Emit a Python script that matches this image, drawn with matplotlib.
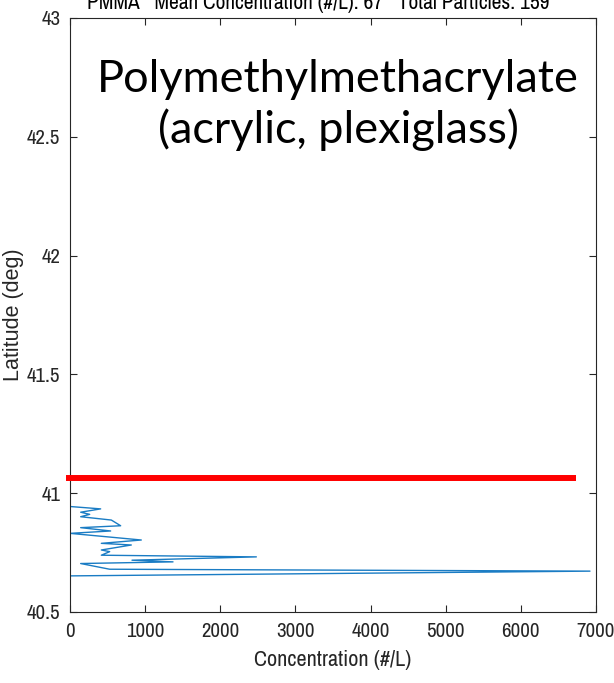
import matplotlib
matplotlib.use("Agg")
import matplotlib.pyplot as plt
from matplotlib import font_manager as fm

names = sorted({f.name for f in fm.fontManager.ttflist})
narrow = 'Liberation Sans'
for n in names:
    if 'Narrow' in n or 'Condensed' in n:
        narrow = n
        break

# Data
conc = [0, 0, 408, 142, 262, 142, 550, 674, 142, 541, 0, 949, 417, 816, 417, 528,
        417, 2480, 825, 1371, 142, 528, 6920, 0, 0]
lat = [43.0, 40.944, 40.934, 40.920, 40.911, 40.901, 40.887, 40.863, 40.855, 40.841,
       40.831, 40.803, 40.789, 40.782, 40.761, 40.754, 40.739, 40.732, 40.718, 40.711,
       40.704, 40.680, 40.672, 40.652, 40.5]

red_x = [-50, 6730]
red_lat = [41.063, 41.063]

xticks = [0, 1000, 2000, 3000, 4000, 5000, 6000, 7000]
yticks = [40.5, 41, 41.5, 42, 42.5, 43]
ytick_labels = ['40.5', '41', '41.5', '42', '42.5', '43']

title = 'PMMA   Mean Concentration (#/L): 67   Total Particles: 159'
annotation = 'Polymethylmethacrylate\n(acrylic, plexiglass)'

fig = plt.figure(figsize=(6.14, 6.83), dpi=100)
ax = fig.add_axes([70/614, 1-612/683, (596-70)/614, (612-18)/683])

ax.plot(conc, lat, color='#1a7cc4', lw=1.0, clip_on=True)
ax.plot(red_x, red_lat, color='#ff0000', lw=4.3, solid_capstyle='butt', clip_on=False, zorder=5)

ax.set_xlim(0, 7000)
ax.set_ylim(40.5, 43)
ax.set_xticks(xticks)
ax.set_xticklabels([str(v) for v in xticks])
ax.set_yticks(yticks)
ax.set_yticklabels(ytick_labels)

axc = '#262626'
for s in ax.spines.values():
    s.set_color(axc)
    s.set_linewidth(0.8)
ax.tick_params(direction='in', length=5, width=0.8, colors=axc, top=True, right=True,
               labelsize=15, pad=7)
for lbl in ax.get_xticklabels() + ax.get_yticklabels():
    lbl.set_fontfamily(narrow)
    lbl.set_color(axc)

ax.set_xlabel('Concentration (#/L)', fontsize=16, family=narrow, color=axc, labelpad=7)
fig.text(14/614, 1-315/683, 'Latitude (deg)', rotation=90, ha='center', va='center',
         fontsize=15.5, family='Liberation Sans', color=axc)

fig.text(318/614, 1 - 9/683, title, ha='center', va='baseline', fontsize=15.4,
         fontweight='bold', family=narrow, color='black')

fig.text(338/614, 1-105/683, annotation, ha='center', va='center',
         fontsize=32.5, family='Lato', color='black', linespacing=1.25)

fig.savefig('out.png', dpi=100)
